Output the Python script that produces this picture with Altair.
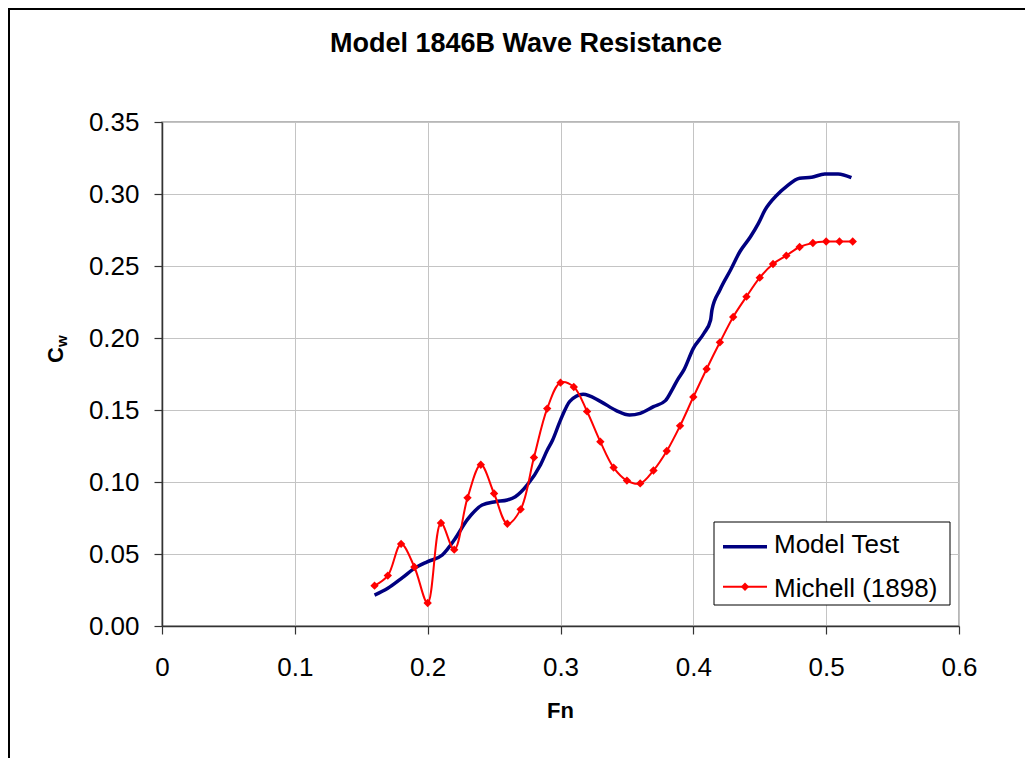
import altair as alt
import pandas as pd

# ---------------- data ----------------
fn_model = [0.160, 0.170, 0.181, 0.190, 0.200, 0.211, 0.220, 0.230, 0.241, 0.251,
            0.260, 0.266, 0.275, 0.285, 0.290, 0.294, 0.300, 0.307, 0.317, 0.330,
            0.342, 0.352, 0.360, 0.370, 0.379, 0.384, 0.388, 0.393, 0.400, 0.408,
            0.413, 0.414, 0.420, 0.428, 0.435, 0.443, 0.449, 0.454, 0.463, 0.470,
            0.480, 0.489, 0.499, 0.509, 0.519]
cw_model = [0.0215, 0.0262, 0.0336, 0.0400, 0.0447, 0.0493, 0.0597, 0.0740, 0.0840, 0.0863,
            0.0875, 0.0898, 0.0980, 0.1120, 0.1220, 0.1290, 0.1430, 0.1560, 0.1610, 0.1560,
            0.1496, 0.1465, 0.1477, 0.1523, 0.1565, 0.1640, 0.1708, 0.1780, 0.1928, 0.2033,
            0.2125, 0.2194, 0.2333, 0.2472, 0.2599, 0.2703, 0.2796, 0.2889, 0.2993, 0.3051,
            0.3109, 0.3116, 0.3139, 0.3139, 0.3113]

fn_michell = [0.16, 0.17, 0.18, 0.19, 0.20, 0.21, 0.22, 0.23, 0.24, 0.25,
              0.26, 0.27, 0.28, 0.29, 0.30, 0.31, 0.32, 0.33, 0.34, 0.35,
              0.36, 0.37, 0.38, 0.39, 0.40, 0.41, 0.42, 0.43, 0.44, 0.45,
              0.46, 0.47, 0.48, 0.49, 0.50, 0.51, 0.52]
cw_michell = [0.028, 0.035, 0.057, 0.041, 0.016, 0.0715, 0.053, 0.089, 0.112, 0.092,
              0.071, 0.081, 0.117, 0.151, 0.169, 0.166, 0.149, 0.128, 0.110, 0.101,
              0.099, 0.108, 0.1215, 0.139, 0.159, 0.1785, 0.197, 0.2146, 0.2287, 0.2419,
              0.2514, 0.2572, 0.2632, 0.266, 0.267, 0.267, 0.267]

x_ticks = [0, 0.1, 0.2, 0.3, 0.4, 0.5, 0.6]
y_ticks = [0.0, 0.05, 0.10, 0.15, 0.20, 0.25, 0.30, 0.35]

series_names = ["Model Test", "Michell (1898)"]
chart_title = "Model 1846B Wave Resistance"

FONT = "Liberation Sans"
BLUE = "#000080"
RED = "#FF0000"

model_df = pd.DataFrame({"Fn": fn_model, "Cw": cw_model, "series": series_names[0]})
mich_df = pd.DataFrame({"Fn": fn_michell, "Cw": cw_michell, "series": series_names[1]})
one = alt.Data(values=[{"k": 1}])

x_enc = alt.X(
    "Fn:Q",
    scale=alt.Scale(domain=[0, 0.6], nice=False, zero=False),
    axis=alt.Axis(
        values=x_ticks,
        labelExpr="datum.value == 0 ? '0' : format(datum.value, '.1f')",
        labelBaseline="alphabetic",
        labelPadding=41,
        labelFlush=False,
        labelOverlap=False,
        title="Fn",
        titleFontSize=22,
        titleFontWeight="bold",
        titleX=398,
        titleY=91,
        titleAlign="center",
        titleBaseline="alphabetic",
    ),
)
y_enc = alt.Y(
    "Cw:Q",
    scale=alt.Scale(domain=[0, 0.35], nice=False, zero=False),
    axis=alt.Axis(
        values=y_ticks,
        format=".2f",
        labelPadding=15,
        labelFlush=False,
        labelOverlap=False,
        title=None,
    ),
)

border = alt.Chart(one).mark_rect(fill="transparent", stroke="black", strokeWidth=2).encode(
    x=alt.value(-153), x2=alt.value(900), y=alt.value(-113), y2=alt.value(700)
)

model_line = alt.Chart(model_df).mark_line(
    color=BLUE, strokeWidth=3.5, interpolate="monotone"
).encode(x=x_enc, y=y_enc)

mich_line = alt.Chart(mich_df).mark_line(
    color=RED, strokeWidth=2, interpolate="catmull-rom"
).encode(x=x_enc, y=y_enc)

mich_pts = alt.Chart(mich_df).mark_point(
    shape="diamond", filled=True, size=70, color=RED, opacity=1
).encode(x=x_enc, y=y_enc)

title_txt = alt.Chart(one).mark_text(
    align="center", baseline="alphabetic", font=FONT, fontSize=27, fontWeight="bold", color="black"
).encode(x=alt.value(364), y=alt.value(-70), text=alt.value(chart_title))

ytitle_c = alt.Chart(one).mark_text(
    angle=270, align="left", baseline="alphabetic", font=FONT, fontSize=22, fontWeight="bold", color="black"
).encode(x=alt.value(-99), y=alt.value(241), text=alt.value("C"))
ytitle_w = alt.Chart(one).mark_text(
    angle=270, align="left", baseline="alphabetic", font=FONT, fontSize=15, fontWeight="bold", color="black"
).encode(x=alt.value(-95), y=alt.value(225), text=alt.value("w"))

# legend (drawn by hand to show line + diamond symbols)
leg_box = alt.Chart(one).mark_rect(fill="white", stroke="black", strokeWidth=1).encode(
    x=alt.value(552), x2=alt.value(788), y=alt.value(400), y2=alt.value(483)
)
leg_blue = alt.Chart(one).mark_rule(color=BLUE, strokeWidth=3.5).encode(
    x=alt.value(561), x2=alt.value(605), y=alt.value(424.7)
)
leg_red = alt.Chart(one).mark_rule(color=RED, strokeWidth=2).encode(
    x=alt.value(561), x2=alt.value(605), y=alt.value(464.7)
)
leg_dia = alt.Chart(one).mark_point(shape="diamond", filled=True, size=70, color=RED, opacity=1).encode(
    x=alt.value(583), y=alt.value(464.7)
)
leg_t1 = alt.Chart(one).mark_text(
    align="left", baseline="alphabetic", font=FONT, fontSize=26, color="black"
).encode(x=alt.value(612), y=alt.value(431), text=alt.value(series_names[0]))
leg_t2 = alt.Chart(one).mark_text(
    align="left", baseline="alphabetic", font=FONT, fontSize=26, color="black"
).encode(x=alt.value(612), y=alt.value(474.7), text=alt.value(series_names[1]))

chart = alt.layer(
    border, model_line, mich_line, mich_pts, title_txt, ytitle_c, ytitle_w,
    leg_box, leg_blue, leg_red, leg_dia, leg_t1, leg_t2,
).properties(
    width=797,
    height=504,
    autosize=alt.AutoSizeParams(type="none"),
    padding={"left": 154, "top": 114, "right": 66, "bottom": 132},
    background="white",
).configure_view(
    stroke="#A0A0A0", strokeWidth=1.5
).configure_axis(
    labelFont=FONT,
    labelFontSize=26,
    labelColor="black",
    titleFont=FONT,
    titleColor="black",
    tickSize=8,
    tickColor="#333333",
    tickWidth=1.2,
    domainColor="#333333",
    domainWidth=1.5,
    gridColor="#C4C4C4",
    gridWidth=1,
)

chart.save("out.html", embed_options={"renderer": "svg", "actions": False})
